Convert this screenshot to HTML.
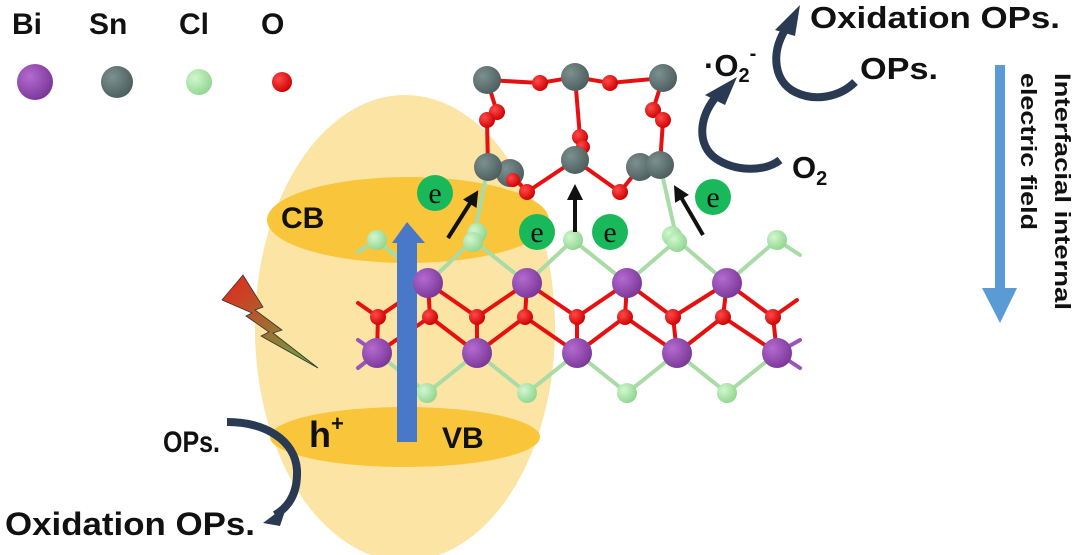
<!DOCTYPE html>
<html><head><meta charset="utf-8"><style>
html,body{margin:0;padding:0;background:#fff;}
svg{display:block;}
text{font-family:"Liberation Sans",Arial,sans-serif;font-weight:bold;fill:#111;}
</style></head><body>
<svg width="1080" height="555" viewBox="0 0 1080 555" xmlns="http://www.w3.org/2000/svg">
<defs>
<radialGradient id="gBi" cx="35%" cy="35%" r="70%"><stop offset="0" stop-color="#b46ad0"/><stop offset="1" stop-color="#7a3796"/></radialGradient>
<radialGradient id="gSn" cx="35%" cy="35%" r="70%"><stop offset="0" stop-color="#7d9090"/><stop offset="1" stop-color="#4c5d5d"/></radialGradient>
<radialGradient id="gCl" cx="35%" cy="35%" r="70%"><stop offset="0" stop-color="#d2f7cf"/><stop offset="1" stop-color="#8fd58f"/></radialGradient>
<radialGradient id="gO" cx="35%" cy="35%" r="70%"><stop offset="0" stop-color="#ff4a4a"/><stop offset="1" stop-color="#cc0000"/></radialGradient>
<linearGradient id="gL" x1="0" y1="0" x2="1" y2="1"><stop offset="0" stop-color="#e8231c"/><stop offset="1" stop-color="#5fb043"/></linearGradient>
<marker id="ah" markerWidth="4" markerHeight="4" refX="2" refY="2" orient="auto" markerUnits="strokeWidth"><path d="M0,0 L4,2 L0,4 Z" fill="#111"/></marker>
</defs>

<!-- legend -->
<text x="12" y="34" font-size="30">Bi</text>
<text x="89" y="34" font-size="30">Sn</text>
<text x="179" y="34" font-size="30">Cl</text>
<text x="261" y="34" font-size="30">O</text>
<circle cx="35" cy="82" r="18" fill="url(#gBi)"/>
<circle cx="117" cy="82" r="16" fill="url(#gSn)"/>
<circle cx="199" cy="82" r="13" fill="url(#gCl)"/>
<circle cx="282" cy="82" r="10" fill="url(#gO)"/>

<!-- ellipses -->
<ellipse cx="405" cy="328" rx="150" ry="233" fill="#fbe4a4"/>
<ellipse cx="408" cy="220" rx="141" ry="43" fill="#f8c53b"/>
<ellipse cx="405" cy="437" rx="135" ry="30" fill="#f8c53b"/>
<text x="281" y="228" font-size="30">CB</text>
<text x="309" y="447" font-size="36">h<tspan font-size="22" dy="-16">+</tspan></text>
<text x="442" y="448" font-size="30">VB</text>

<!-- lightning -->
<path d="M222,300 L243,275 L263,307 L255,310 L282,330 L273,333 L318,368 L261,336 L269,332 L246,316 L252,313 Z" fill="url(#gL)" stroke="#333" stroke-width="0.8"/>

<!-- lattice bonds -->
<g stroke-width="4" stroke-linecap="round">
<g stroke="#a9dba6">
<line x1="428" y1="283" x2="377" y2="240"/><line x1="428" y1="283" x2="473" y2="240"/>
<line x1="527" y1="283" x2="473" y2="240"/><line x1="527" y1="283" x2="573" y2="240"/>
<line x1="627" y1="283" x2="573" y2="240"/><line x1="627" y1="283" x2="677" y2="240"/>
<line x1="727" y1="283" x2="677" y2="240"/><line x1="727" y1="283" x2="777" y2="240"/>
<line x1="377" y1="240" x2="358" y2="252"/><line x1="777" y1="240" x2="800" y2="255"/>
<line x1="377" y1="353" x2="427" y2="393"/><line x1="477" y1="353" x2="427" y2="393"/>
<line x1="477" y1="353" x2="527" y2="393"/><line x1="577" y1="353" x2="527" y2="393"/>
<line x1="577" y1="353" x2="627" y2="393"/><line x1="677" y1="353" x2="627" y2="393"/>
<line x1="677" y1="353" x2="727" y2="393"/><line x1="777" y1="353" x2="727" y2="393"/>
<line x1="488" y1="167" x2="473" y2="240"/><line x1="660" y1="165" x2="677" y2="240"/>
</g>
<g stroke="#9b55b8">
<line x1="377" y1="353" x2="358" y2="340"/><line x1="377" y1="353" x2="358" y2="368"/>
<line x1="777" y1="353" x2="800" y2="340"/><line x1="777" y1="353" x2="800" y2="368"/>
</g>
<g stroke="#e61010">
<line x1="428" y1="283" x2="378" y2="317"/><line x1="428" y1="283" x2="477" y2="317"/><line x1="428" y1="283" x2="430" y2="317"/>
<line x1="527" y1="283" x2="477" y2="317"/><line x1="527" y1="283" x2="577" y2="317"/><line x1="527" y1="283" x2="525" y2="317"/>
<line x1="627" y1="283" x2="577" y2="317"/><line x1="627" y1="283" x2="673" y2="317"/><line x1="627" y1="283" x2="625" y2="317"/>
<line x1="727" y1="283" x2="673" y2="317"/><line x1="727" y1="283" x2="773" y2="317"/><line x1="727" y1="283" x2="723" y2="317"/>
<line x1="377" y1="353" x2="430" y2="317"/><line x1="377" y1="353" x2="378" y2="317"/>
<line x1="477" y1="353" x2="430" y2="317"/><line x1="477" y1="353" x2="525" y2="317"/><line x1="477" y1="353" x2="477" y2="317"/>
<line x1="577" y1="353" x2="525" y2="317"/><line x1="577" y1="353" x2="625" y2="317"/><line x1="577" y1="353" x2="577" y2="317"/>
<line x1="677" y1="353" x2="625" y2="317"/><line x1="677" y1="353" x2="723" y2="317"/><line x1="677" y1="353" x2="673" y2="317"/>
<line x1="777" y1="353" x2="723" y2="317"/><line x1="777" y1="353" x2="773" y2="317"/>
<line x1="378" y1="317" x2="358" y2="303"/><line x1="773" y1="317" x2="797" y2="300"/>
</g>
<g stroke="#e61010">
<polyline fill="none" points="487,80 540,83 575,77 610,83 663,78"/>
<polyline fill="none" points="487,80 497,112 487,120 488,167"/>
<polyline fill="none" points="575,77 580,137 575,160"/>
<polyline fill="none" points="663,78 653,110 663,120 660,165"/>
<polyline fill="none" points="510,173 527,192 575,160 620,192 640,167"/>
</g>
</g>

<!-- atoms -->
<g fill="url(#gSn)">
<circle cx="487" cy="80" r="14"/><circle cx="575" cy="77" r="14"/><circle cx="663" cy="78" r="14"/>
</g>
<g fill="url(#gO)">
<circle cx="540" cy="83" r="8"/><circle cx="610" cy="83" r="8"/>
<circle cx="497" cy="112" r="8"/><circle cx="487" cy="120" r="8"/>
<circle cx="580" cy="137" r="8"/><circle cx="583" cy="147" r="7"/>
<circle cx="653" cy="110" r="8"/><circle cx="663" cy="120" r="8"/>
</g>
<g fill="url(#gSn)">
<circle cx="510" cy="173" r="14"/><circle cx="488" cy="167" r="14"/>
<circle cx="575" cy="160" r="14"/>
<circle cx="640" cy="167" r="14"/><circle cx="660" cy="165" r="14"/>
</g>
<g fill="url(#gO)">
<circle cx="527" cy="192" r="8"/><circle cx="513" cy="180" r="7"/><circle cx="620" cy="192" r="8"/>
</g>
<g fill="url(#gCl)">
<circle cx="377" cy="240" r="10"/><circle cx="477" cy="233" r="10"/><circle cx="473" cy="242" r="10"/>
<circle cx="573" cy="240" r="10"/><circle cx="672" cy="236" r="10"/><circle cx="677" cy="242" r="10"/><circle cx="777" cy="240" r="10"/>
</g>
<path d="M397,442 L397,243 L392,243 L407,222 L425,243 L417,243 L417,442 Z" fill="#4a78c8"/>
<g fill="url(#gBi)">
<circle cx="428" cy="283" r="15"/><circle cx="527" cy="283" r="15"/><circle cx="627" cy="283" r="15"/><circle cx="727" cy="283" r="15"/>
<circle cx="377" cy="353" r="15"/><circle cx="477" cy="353" r="15"/><circle cx="577" cy="353" r="15"/><circle cx="677" cy="353" r="15"/><circle cx="777" cy="353" r="15"/>
</g>
<g fill="url(#gO)">
<circle cx="378" cy="317" r="8"/><circle cx="430" cy="317" r="8"/><circle cx="477" cy="317" r="8"/><circle cx="525" cy="317" r="8"/><circle cx="577" cy="317" r="8"/><circle cx="625" cy="317" r="8"/><circle cx="673" cy="317" r="8"/><circle cx="723" cy="317" r="8"/><circle cx="773" cy="317" r="8"/>
</g>
<g fill="url(#gCl)">
<circle cx="427" cy="393" r="10"/><circle cx="527" cy="393" r="10"/><circle cx="627" cy="393" r="10"/><circle cx="727" cy="393" r="10"/>
</g>

<!-- electron arrows -->
<g stroke="#111" stroke-width="4">
<line x1="448" y1="238" x2="474" y2="197" marker-end="url(#ah)"/>
<line x1="575" y1="232" x2="575" y2="192" marker-end="url(#ah)"/>
<line x1="703" y1="235" x2="678" y2="192" marker-end="url(#ah)"/>
</g>
<g fill="#19b85a">
<circle cx="435" cy="193" r="18"/><circle cx="537" cy="232" r="18"/><circle cx="610" cy="232" r="18"/><circle cx="713" cy="197" r="18"/>
</g>
<g text-anchor="middle">
<text x="435" y="203" font-size="30" style="font-family:'Liberation Serif',serif;font-weight:normal">e</text>
<text x="537" y="242" font-size="30" style="font-family:'Liberation Serif',serif;font-weight:normal">e</text>
<text x="610" y="242" font-size="30" style="font-family:'Liberation Serif',serif;font-weight:normal">e</text>
<text x="713" y="207" font-size="30" style="font-family:'Liberation Serif',serif;font-weight:normal">e</text>
</g>

<!-- top right -->
<text x="810" y="28" font-size="31" textLength="250" lengthAdjust="spacingAndGlyphs">Oxidation OPs.</text>
<text x="860" y="79" font-size="31" textLength="78" lengthAdjust="spacingAndGlyphs">OPs.</text>
<text x="704" y="76" font-size="31">·O<tspan font-size="20" dy="6">2</tspan><tspan font-size="20" dy="-22">-</tspan></text>
<text x="792" y="178" font-size="31">O<tspan font-size="20" dy="7">2</tspan></text>
<g fill="none" stroke="#2a3a52" stroke-width="8">
<path d="M780,160 C765,172 735,172 715,158 C698,145 698,120 715,98"/>
<path d="M855,82 C840,97 815,102 795,92 C775,82 770,55 785,30"/>
<path d="M227,422 C265,422 295,440 297,470 C298,495 287,508 275,515"/>
</g>
<g fill="#2a3a52">
<path d="M737,77 L705,95 L725,105 Z"/>
<path d="M800,5 L775,30 L795,36 Z"/>
<path d="M263,523 L287,505 L280,526 Z"/>
</g>

<!-- bottom left text -->
<text x="163" y="452" font-size="30" textLength="57" lengthAdjust="spacingAndGlyphs">OPs.</text>
<text x="5" y="535" font-size="32" textLength="250" lengthAdjust="spacingAndGlyphs">Oxidation OPs.</text>

<!-- field arrow -->
<rect x="995" y="65" width="10" height="225" fill="#5b9bd5"/>
<path d="M982,288 L1017,288 L1000,323 Z" fill="#5b9bd5"/>
<text transform="translate(1055,73) rotate(90)" font-size="22" textLength="237" lengthAdjust="spacingAndGlyphs">Interfacial internal</text>
<text transform="translate(1021,73) rotate(90)" font-size="22" textLength="157" lengthAdjust="spacingAndGlyphs">electric field</text>
</svg>
</body></html>
